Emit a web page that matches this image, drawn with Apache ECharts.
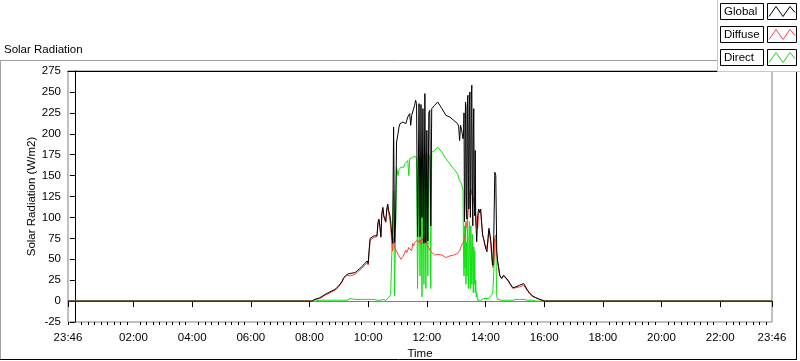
<!DOCTYPE html>
<html><head><meta charset="utf-8">
<script src="https://cdn.jsdelivr.net/npm/echarts@6/dist/echarts.min.js"></script>
<style>html,body{margin:0;padding:0;background:#fff}#c{width:800px;height:361px}</style>
</head><body><div id="c"></div>
<script>
// ---- data ----
const times = [
 "23:46","08:00","08:05","08:11","08:21","08:32","08:42","08:52","08:58","09:06",
 "09:10","09:17","09:23","09:33","09:39","09:47","09:53","09:58","10:00","10:02",
 "10:04","10:08","10:12","10:16","10:18","10:20","10:22","10:24","10:26","10:28",
 "10:30","10:32","10:34","10:36","10:38","10:40","10:42","10:44","10:46","10:48",
 "10:50","10:52","10:54","10:56","10:58","11:01","11:03","11:05","11:07","11:09",
 "11:11","11:13","11:15","11:17","11:19","11:21","11:23","11:25","11:27","11:29",
 "11:31","11:33","11:35","11:37","11:39","11:41","11:44","11:46","11:48","11:50",
 "11:52","11:54","11:56","11:58","12:00","12:02","12:04","12:06","12:08","12:10",
 "12:12","12:14","12:16","12:18","12:22","12:26","12:31","12:35","12:39","12:43",
 "12:47","12:51","12:55","12:59","13:03","13:05","13:07","13:09","13:11","13:14",
 "13:15","13:16","13:17","13:18","13:19","13:20","13:21","13:22","13:23","13:24",
 "13:25","13:26","13:27","13:28","13:29","13:30","13:31","13:32","13:33","13:34",
 "13:35","13:36","13:37","13:38","13:39","13:40","13:41","13:42","13:44","13:46",
 "13:48","13:50","13:52","13:54",
 "13:56","13:59","14:01","14:03","14:05","14:07","14:09","14:11","14:13","14:15",
 "14:17","14:19","14:21","14:23","14:25","14:27","14:29","14:33","14:37","14:41",
 "14:46","14:50","14:56","15:02","15:10","15:18","15:22","15:26","15:31","15:37",
 "15:43","15:51","16:01","23:46"
];
const globalVals = [
 0,0,0,2,4,8,11,14,17,23,
 28,32,33,34,37,41,45,48,45,61,
 75,77,78,80,78,94,98,89,77,105,
 112,102,100,95,110,116,108,104,96,81,
 69,208,70,95,190,200,208,212,210,214,
 214,212,214,212,216,220,222,224,210,222,
 222,230,234,240,236,77,236,77,235,100,
 230,69,248,70,204,72,225,228,90,230,
 228,232,234,236,238,236,230,226,222,221,
 220,218,216,214,212,209,192,210,205,194,
 200,225,95,120,238,232,110,98,240,246,
 150,110,235,250,100,130,245,258,140,90,
 200,230,120,102,180,94,85,71,102,110,
 106,110,95,79,
 75,67,62,59,75,87,80,71,55,43,
 80,154,150,59,47,40,31,27,31,33,
 25,21,16,17,19,21,23,13,9,6,
 4,2,0,0
];
const diffuseVals = [
 0,0,0,2,3,7,10,13,16,22,
 27,31,30,32,35,39,43,46,43,59,
 73,75,76,78,77,92,96,88,76,104,
 110,100,98,94,108,113,104,98,88,72,
 60,76,64,65,62,56,55,55,50,52,
 53,54,53,61,58,56,64,65,62,60,
 69,66,70,68,72,73,70,73,68,75,
 74,70,77,70,68,66,64,61,60,58,
 57,56,55,54,56,57,55,54,52,53,
 54,55,55,56,57,58,60,63,67,70,
 72,73,75,77,82,87,90,92,98,102,
 110,118,125,130,132,134,130,128,127,126,
 123,120,115,110,107,104,97,90,87,104,
 106,110,92,80,
 74,66,62,60,70,84,78,68,48,40,
 45,76,79,56,45,38,30,27,30,32,
 24,20,15,16,17,19,21,12,8,5,
 4,2,0,0
];
const directVals = [
 0,0,0,0,1,1,1,1,1,1,
 1,1,3,2,2,2,2,2,2,2,
 2,1,2,2,1,2,1,1,1,1,
 2,2,2,1,2,3,4,6,8,9,
 9,132,6,5,160,150,157,158,160,161,
 161,160,164,163,166,168,150,170,168,171,
 172,172,173,173,170,15,172,30,170,5,
 175,20,176,15,176,30,175,172,15,178,
 178,179,180,182,184,182,178,176,170,167,
 164,162,158,157,152,150,144,146,140,132,
 60,30,90,40,95,20,70,30,100,60,
 15,70,95,40,15,90,60,20,80,40,
 10,65,20,60,10,25,5,10,1,0,
 0,1,2,2,
 3,3,3,3,3,3,3,4,8,11,
 35,75,70,5,2,1,1,1,1,1,
 1,1,1,2,2,2,2,1,1,1,
 0,0,0,0
];
const xTickLabels = ["23:46","02:00","04:00","06:00","08:00","10:00","12:00","14:00","16:00","18:00","20:00","22:00","23:46"];
const seriesNames = ["Global","Diffuse","Direct"];
const seriesColors = ["#000000","#ff4040","#10e010"];

// ---- helpers ----
function toMinutes(list){
  let off = 0, prev = -1; const out = [];
  list.forEach(s => {
    const p = s.split(":"); let m = (+p[0])*60 + (+p[1]);
    if (prev >= 0 && m + off < prev) off += 1440;
    m += off; prev = m; out.push(m);
  });
  const base = out[0] - (out[0] % 1440) + 1440; // midnight of the plotted day
  return out.map(v => v - base);
}
const tMin = toMinutes(times);
const majorVals = toMinutes(xTickLabels);
const xMin = majorVals[0], xMax = majorVals[majorVals.length-1];
const minorVals = [];
for (let k = -20; k < 200; k++) {
  const v = 120 + k*40/3;
  if (v < xMin || v > xMax || k % 9 === 0) continue;
  minorVals.push(v);
}
function fmt(v){
  let m = Math.round(((v % 1440) + 1440) % 1440);
  const h = Math.floor(m/60), mm = m % 60;
  return String(h).padStart(2,"0") + ":" + String(mm).padStart(2,"0");
}
const pairs = arr => arr.map((v,i) => [tMin[i], v]);
const font = "Liberation Sans";
const fs = 11.5;

const chart = echarts.init(document.getElementById("c"), null, {renderer:"canvas"});

// legend decoration
const legendGraphics = [
  {type:"rect", z:100, shape:{x:717.5,y:-2,width:90,height:73.5}, style:{fill:"#fff",stroke:"#c8c8c8",lineWidth:1}}
];
seriesNames.forEach((n,i) => {
  const y0 = 3.5 + 23*i;
  legendGraphics.push({type:"rect", z:101, shape:{x:720.5,y:y0,width:43,height:16}, style:{fill:"#fff",stroke:"#000",lineWidth:1}});
  legendGraphics.push({type:"text", z:102, x:724, y:y0+8.5, style:{text:n, fill:"#000", font: fs+"px '"+font+"'", verticalAlign:"middle"}});
  legendGraphics.push({type:"rect", z:101, shape:{x:767.5,y:y0,width:29,height:16}, style:{fill:"#fff",stroke:"#000",lineWidth:1}});
  legendGraphics.push({type:"polyline", z:102, shape:{points:[[769,y0+13],[776,y0+3],[783,y0+13],[790,y0+3],[795,y0+9]]}, style:{stroke:seriesColors[i],lineWidth:1,fill:null}});
});

chart.setOption({
  animation:false,
  backgroundColor:"#fff",
  textStyle:{fontFamily:font},
  grid:{left:68,right:28,top:71,bottom:39,show:true,borderColor:"#808080",borderWidth:1,backgroundColor:"#fff",
        containLabel:false,outerBoundsMode:"none"},
  xAxis:[
    {type:"value",min:xMin,max:xMax,position:"bottom",
     axisLine:{show:true,lineStyle:{color:"#808080",width:1}},
     axisTick:{show:true,customValues:majorVals,length:6,lineStyle:{color:"#000"}},
     axisLabel:{show:true,customValues:majorVals,formatter:v=>fmt(v),color:"#000",fontSize:fs,fontFamily:font,margin:10},
     splitLine:{show:false},
     name:"Time",nameLocation:"middle",nameGap:26,nameMoveOverlap:false,
     nameTextStyle:{color:"#000",fontSize:fs,fontFamily:font}},
    {type:"value",min:xMin,max:xMax,position:"top",
     axisLine:{show:true,lineStyle:{color:"#000",width:1}},
     axisTick:{show:false},axisLabel:{show:false},splitLine:{show:false}},
    {type:"value",min:xMin,max:xMax,position:"bottom",
     axisLine:{show:false},
     axisTick:{show:true,customValues:minorVals,length:3,lineStyle:{color:"#000"}},
     axisLabel:{show:false},splitLine:{show:false}}
  ],
  yAxis:{type:"value",min:-25,max:275,interval:25,
    axisLine:{show:true,lineStyle:{color:"#000",width:1}},
    axisTick:{show:true,length:5,lineStyle:{color:"#000"}},
    axisLabel:{color:"#000",fontSize:fs,fontFamily:font,margin:7},
    splitLine:{show:false},
    name:"Solar Radiation (W/m2)",nameLocation:"middle",nameGap:30,nameMoveOverlap:false,
    nameTextStyle:{color:"#000",fontSize:fs,fontFamily:font}},
  series:[
    {name:"Direct",type:"line",data:pairs(directVals),showSymbol:false,lineStyle:{color:seriesColors[2],width:1},z:2},
    {name:"Diffuse",type:"line",data:pairs(diffuseVals),showSymbol:false,lineStyle:{color:seriesColors[1],width:1},z:3},
    {name:"Global",type:"line",data:pairs(globalVals),showSymbol:false,lineStyle:{color:seriesColors[0],width:1},z:4}
  ],
  graphic:[
    {type:"text", left:4, top:44, style:{text:"Solar Radiation", fill:"#000", font: fs+"px '"+font+"'"}},
    {type:"line", shape:{x1:0,y1:60.5,x2:797,y2:60.5}, style:{stroke:"#a0a0a0",lineWidth:1}},
    {type:"line", shape:{x1:0.5,y1:60,x2:0.5,y2:360}, style:{stroke:"#a0a0a0",lineWidth:1}},
    {type:"line", shape:{x1:0,y1:359.5,x2:797,y2:359.5}, style:{stroke:"#000",lineWidth:1}},
    {type:"line", shape:{x1:796.5,y1:60,x2:796.5,y2:360}, style:{stroke:"#000",lineWidth:1}}
  ].concat(legendGraphics)
});
</script></body></html>
